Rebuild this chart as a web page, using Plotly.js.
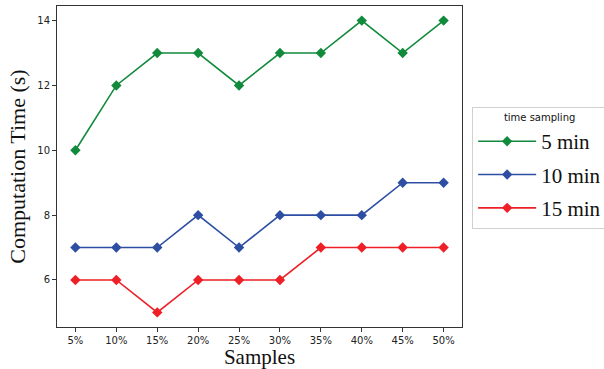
<!DOCTYPE html>
<html><head><meta charset="utf-8">
<script src="https://cdn.plot.ly/plotly-3.0.1.min.js"></script>
<style>html,body{margin:0;padding:0;background:#fff;}#chart{width:604px;height:369px;}</style>
</head><body><div id="chart"></div>
<script>
const samples = ["5%","10%","15%","20%","25%","30%","35%","40%","45%","50%"];
const min5 = [10,12,13,13,12,13,13,14,13,14];
const min10 = [7,7,7,8,7,8,8,8,9,9];
const min15 = [6,6,5,6,6,6,7,7,7,7];
const names = ["5 min","10 min","15 min"];
const colors = ["#118a3c","#2d4ea3","#ee1f26"];
const series = [min5, min10, min15];
const traces = series.map((s,i)=>({
  x: samples, y: s, name: names[i], type:"scatter", mode:"lines+markers",
  legendgroup:"g"+i,
  line:{color:colors[i], width:1.6},
  marker:{symbol:"diamond", size:8, color:colors[i]}
}));
const layout = {
  width:604, height:369,
  margin:{l:57, r:142, t:6, b:42, autoexpand:false},
  paper_bgcolor:"#fff", plot_bgcolor:"#fff",
  showlegend:true,
  xaxis:{
    type:"category", range:[-0.45,9.45], showgrid:false, zeroline:false,
    showline:true, mirror:true, linecolor:"#333", linewidth:1,
    ticks:"outside", ticklen:4, tickcolor:"#333",
    tickfont:{family:"DejaVu Sans", size:10, color:"#222"},
    title:{text:"Samples", font:{family:"Liberation Serif", size:21, color:"#111"}, standoff:4}
  },
  yaxis:{
    range:[4.55,14.45], dtick:2, showgrid:false, zeroline:false,
    showline:true, mirror:true, linecolor:"#333", linewidth:1,
    ticks:"outside", ticklen:4, tickcolor:"#333",
    tickfont:{family:"DejaVu Sans", size:10, color:"#222"},
    title:{text:"Computation Time (s)", font:{family:"Liberation Serif", size:22, color:"#111"}, standoff:5}
  },
  legend:{
    x:1.025, y:0.685, xanchor:"left", yanchor:"top",
    bordercolor:"#d0d0d0", borderwidth:1, bgcolor:"#fff",
    font:{family:"Liberation Serif", size:21, color:"#111"},
    title:{text:"time sampling", side:"top center", font:{family:"DejaVu Sans", size:10, color:"#111"}},
    traceorder:"grouped", itemwidth:58, tracegroupgap:3
  }
};
Plotly.newPlot("chart", traces, layout, {displayModeBar:false, staticPlot:true});
</script></body></html>
